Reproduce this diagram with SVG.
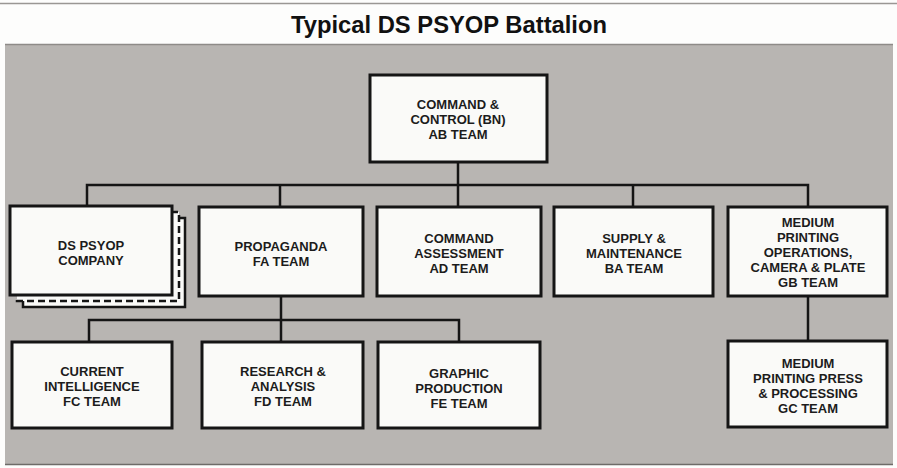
<svg xmlns="http://www.w3.org/2000/svg" width="897" height="468" viewBox="0 0 897 468">
<style>
.bg{fill:#fdfdfc}
.panel{fill:#b8b5b2}
.box{fill:#fafaf8;stroke:#151515;stroke-width:3}
.wire{fill:none;stroke:#151515;stroke-width:2.5}
.t{font-family:"Liberation Sans",Arial,sans-serif;font-weight:bold;font-size:13px;fill:#1c1c1c;text-anchor:middle}
.title{font-family:"Liberation Sans",Arial,sans-serif;font-weight:bold;font-size:24px;fill:#111;text-anchor:middle}
</style>
<rect class="bg" x="0" y="0" width="897" height="468"/>
<line x1="0" y1="3.5" x2="897" y2="3.5" stroke="#9a9794" stroke-width="1.5"/>
<text class="title" x="449" y="33" textLength="316" lengthAdjust="spacingAndGlyphs">Typical DS PSYOP Battalion</text>
<rect class="panel" x="5" y="44" width="888" height="421"/>
<line x1="5" y1="44.5" x2="893" y2="44.5" stroke="#8e8b88" stroke-width="1.5"/>
<line x1="5" y1="464.5" x2="893" y2="464.5" stroke="#6e6b68" stroke-width="1.5"/>

<g id="connectors">
<path class="wire" d="M458 162 V185"/>
<path class="wire" d="M87 207 V185 H808 V207"/>
<path class="wire" d="M280 185 V207 M458 185 V207 M633 185 V207"/>
<path class="wire" d="M281 296 V320"/>
<path class="wire" d="M89 342 V320 H459 V342"/>
<path class="wire" d="M281 320 V342"/>
<path class="wire" d="M808 297 V341"/>
</g>

<g id="ab">
<rect class="box" x="370" y="75" width="177" height="87"/>
<text class="t" x="458" y="109">COMMAND &amp;</text>
<text class="t" x="458" y="124">CONTROL (BN)</text>
<text class="t" x="458" y="139">AB TEAM</text>
</g>

<g id="company">
<rect x="23" y="218" width="162" height="89" fill="#fafaf8" stroke="#151515" stroke-width="2.5"/>
<rect x="17" y="212" width="162" height="89" fill="#fafaf8" stroke="#151515" stroke-width="2.5" stroke-dasharray="7 4"/>
<rect class="box" x="10" y="206" width="162" height="89"/>
<text class="t" x="91" y="250">DS PSYOP</text>
<text class="t" x="91" y="265">COMPANY</text>
</g>

<g id="fa">
<rect class="box" x="199" y="207" width="164" height="89"/>
<text class="t" x="281" y="251">PROPAGANDA</text>
<text class="t" x="281" y="266">FA TEAM</text>
</g>

<g id="ad">
<rect class="box" x="377" y="207" width="164" height="89"/>
<text class="t" x="459" y="243">COMMAND</text>
<text class="t" x="459" y="258">ASSESSMENT</text>
<text class="t" x="459" y="273">AD TEAM</text>
</g>

<g id="ba">
<rect class="box" x="554" y="207" width="159" height="89"/>
<text class="t" x="634" y="243">SUPPLY &amp;</text>
<text class="t" x="634" y="258">MAINTENANCE</text>
<text class="t" x="634" y="273">BA TEAM</text>
</g>

<g id="gb">
<rect class="box" x="728" y="207" width="159" height="89"/>
<text class="t" x="808" y="227">MEDIUM</text>
<text class="t" x="808" y="242">PRINTING</text>
<text class="t" x="808" y="257">OPERATIONS,</text>
<text class="t" x="808" y="272">CAMERA &amp; PLATE</text>
<text class="t" x="808" y="287">GB TEAM</text>
</g>

<g id="fc">
<rect class="box" x="12" y="342" width="160" height="86"/>
<text class="t" x="92" y="376">CURRENT</text>
<text class="t" x="92" y="391">INTELLIGENCE</text>
<text class="t" x="92" y="406">FC TEAM</text>
</g>

<g id="fd">
<rect class="box" x="202" y="342" width="161" height="86"/>
<text class="t" x="283" y="376">RESEARCH &amp;</text>
<text class="t" x="283" y="391">ANALYSIS</text>
<text class="t" x="283" y="406">FD TEAM</text>
</g>

<g id="fe">
<rect class="box" x="378" y="342" width="162" height="86"/>
<text class="t" x="459" y="378">GRAPHIC</text>
<text class="t" x="459" y="393">PRODUCTION</text>
<text class="t" x="459" y="408">FE TEAM</text>
</g>

<g id="gc">
<rect class="box" x="728" y="341" width="159" height="86"/>
<text class="t" x="808" y="368">MEDIUM</text>
<text class="t" x="808" y="383">PRINTING PRESS</text>
<text class="t" x="808" y="398">&amp; PROCESSING</text>
<text class="t" x="808" y="413">GC TEAM</text>
</g>
</svg>
